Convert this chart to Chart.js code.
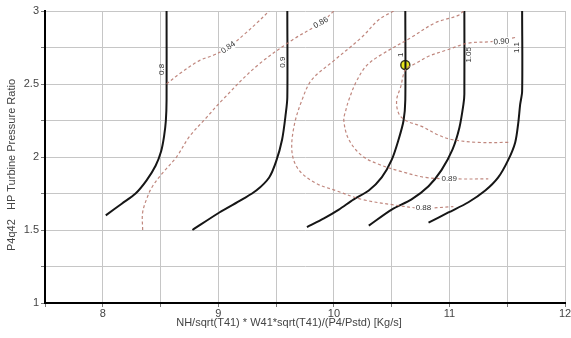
<!DOCTYPE html>
<html>
<head>
<meta charset="utf-8">
<script src="https://cdn.jsdelivr.net/npm/chart.js@4.4.1/dist/chart.umd.min.js"></script>
<style>
    html, body { margin: 0; padding: 0; background: #fff; }
    #wrap { width: 571px; height: 338px; }
</style>
</head>
<body>
<div id="wrap"><canvas id="turbineMap"></canvas></div>
<script>
// tick labels
const xTicks = [8, 9, 10, 11, 12];
const yTicks = [1, 1.5, 2, 2.5, 3];
const xTitle = 'NH/sqrt(T41) * W41*sqrt(T41)/(P4/Pstd) [Kg/s]';
const yTitle = 'P4q42   HP Turbine Pressure Ratio';

// corrected speed lines  [flow, pressure ratio]
const speedLevels = ['0.8', '0.9', '1', '1.05', '1.1'];
const speed080 = [[8.552, 3.0], [8.552, 2.39], [8.546, 2.25], [8.530, 2.14], [8.505, 2.04], [8.457, 1.94], [8.379, 1.84], [8.284, 1.75], [8.164, 1.68], [8.026, 1.60]];
const speed090 = [[9.597, 3.0], [9.597, 2.41], [9.584, 2.30], [9.552, 2.12], [9.500, 1.97], [9.440, 1.86], [9.328, 1.77], [9.207, 1.71], [9.009, 1.62], [8.776, 1.50]];
const speed100 = [[10.618, 3.0], [10.618, 2.39], [10.603, 2.25], [10.560, 2.12], [10.500, 1.98], [10.414, 1.86], [10.302, 1.77], [10.172, 1.71], [10.043, 1.64], [9.914, 1.58], [9.767, 1.52]];
const speed105 = [[11.129, 3.0], [11.129, 2.43], [11.121, 2.36], [11.086, 2.20], [11.026, 2.05], [10.931, 1.91], [10.819, 1.80], [10.672, 1.71], [10.500, 1.64], [10.302, 1.53]];
const speed110 = [[11.629, 3.0], [11.629, 2.45], [11.612, 2.36], [11.595, 2.23], [11.569, 2.10], [11.509, 1.98], [11.422, 1.86], [11.310, 1.77], [11.164, 1.69], [10.991, 1.62], [10.819, 1.55]];

// efficiency contours
const effLevels = ['0.84', '0.86', '0.88', '0.89', '0.90'];
const eff084 = [[8.552, 2.50], [8.664, 2.57], [8.836, 2.66], [8.966, 2.70], [9.086, 2.75], [9.224, 2.84], [9.336, 2.92], [9.440, 3.0]];
const eff086 = [[8.345, 1.50], [8.345, 1.62], [8.388, 1.73], [8.431, 1.80], [8.517, 1.89], [8.638, 2.00], [8.750, 2.14], [8.897, 2.27], [9.034, 2.39], [9.328, 2.62], [9.638, 2.80], [9.888, 2.92], [10.000, 3.0]];
const eff088 = [[10.517, 3.0], [10.388, 2.94], [10.241, 2.82], [10.000, 2.66], [9.810, 2.53], [9.724, 2.39], [9.655, 2.21], [9.638, 2.03], [9.698, 1.91], [9.845, 1.82], [10.017, 1.77], [10.241, 1.71], [10.534, 1.67], [10.759, 1.65], [11.034, 1.66]];
const eff089 = [[11.121, 3.0], [11.078, 2.97], [10.879, 2.92], [10.672, 2.82], [10.388, 2.69], [10.276, 2.62], [10.190, 2.51], [10.129, 2.39], [10.103, 2.32], [10.086, 2.25], [10.129, 2.12], [10.241, 2.01], [10.388, 1.95], [10.586, 1.90], [10.793, 1.86], [11.052, 1.85], [11.336, 1.85]];
const eff090 = [[11.509, 2.10], [11.250, 2.10], [11.017, 2.12], [10.905, 2.15], [10.759, 2.21], [10.621, 2.25], [10.560, 2.30], [10.543, 2.39], [10.578, 2.48], [10.621, 2.60], [10.707, 2.64], [10.819, 2.69], [10.966, 2.73], [11.164, 2.78], [11.362, 2.79], [11.578, 2.82]];

// operating point
const opFlow = [10.618];
const opPR = [2.63];

const speedLines = [speed080, speed090, speed100, speed105, speed110];
const effLines = [eff084, eff086, eff088, eff089, eff090];

const FONT = '"Liberation Sans", Arial, sans-serif';

function toPts(arr) {
    return arr.map(p => ({ x: p[0], y: p[1] }));
}

let datasets = [];
effLines.forEach((line, i) => {
    datasets.push({
        label: 'eff ' + effLevels[i],
        data: toPts(line),
        showLine: true,
        borderColor: 'rgba(185,122,112,0.9)',
        borderWidth: 1.2,
        borderDash: [3, 2.5],
        pointRadius: 0,
        tension: 0.35,
        fill: false
    });
});
speedLines.forEach((line, i) => {
    datasets.push({
        label: 'N ' + speedLevels[i],
        data: toPts(line),
        showLine: true,
        borderColor: '#161616',
        borderWidth: 2,
        pointRadius: 0,
        tension: 0.3,
        fill: false
    });
});
datasets.push({
    label: 'op',
    data: opFlow.map((v, i) => ({ x: v, y: opPR[i] })),
    showLine: false,
    pointRadius: 4.5,
    pointBackgroundColor: '#e8e81c',
    pointBorderColor: '#3a3a20',
    pointBorderWidth: 1.5
});

// label anchors in data units, rotation in degrees
const speedLabelPos = [[8.515, 2.60], [9.562, 2.65], [10.582, 2.70], [11.168, 2.70], [11.585, 2.75]];
const effLabelPos = [[9.086, 2.75, -35], [9.888, 2.92, -30], [10.775, 1.65, 0], [10.998, 1.85, 0], [11.45, 2.79, -4]];

const mapLabels = {
    id: 'mapLabels',
    afterDatasetsDraw(chart) {
        const ctx = chart.ctx;
        const xs = chart.scales.x, ys = chart.scales.y;
        ctx.save();
        ctx.font = '8px ' + FONT;
        ctx.fillStyle = '#333';
        ctx.textAlign = 'center';
        ctx.textBaseline = 'middle';
        speedLevels.forEach((t, i) => {
            const px = xs.getPixelForValue(speedLabelPos[i][0]);
            const py = ys.getPixelForValue(speedLabelPos[i][1]);
            ctx.save();
            ctx.translate(px, py);
            ctx.rotate(-Math.PI / 2);
            ctx.fillText(t, 0, 0);
            ctx.restore();
        });
        effLevels.forEach((t, i) => {
            const p = effLabelPos[i];
            const px = xs.getPixelForValue(p[0]);
            const py = ys.getPixelForValue(p[1]);
            ctx.save();
            ctx.translate(px, py);
            ctx.rotate(p[2] * Math.PI / 180);
            const w = ctx.measureText(t).width;
            ctx.fillStyle = '#fff';
            ctx.fillRect(-w / 2 - 1, -4, w + 2, 8);
            ctx.fillStyle = '#333';
            ctx.fillText(t, 0, 0);
            ctx.restore();
        });
        ctx.restore();
    },
    // axis titles are centred on the whole canvas, not on the plot area
    afterDraw(chart) {
        const ctx = chart.ctx;
        ctx.save();
        ctx.font = '11px ' + FONT;
        ctx.fillStyle = '#444';
        ctx.textAlign = 'center';
        ctx.textBaseline = 'middle';
        ctx.fillText(xTitle, 289, 323);
        ctx.translate(12, 165);
        ctx.rotate(-Math.PI / 2);
        ctx.fillText(yTitle, 0, 0);
        ctx.restore();
    }
};

new Chart(document.getElementById('turbineMap'), {
    type: 'scatter',
    data: { datasets: datasets },
    options: {
        responsive: true,
        maintainAspectRatio: false,
        animation: false,
        events: [],
        layout: { padding: { top: 11, right: 5, left: 0, bottom: 0 } },
        plugins: {
            legend: { display: false },
            tooltip: { enabled: false }
        },
        scales: {
            x: {
                type: 'linear',
                min: 7.5,
                max: 12,
                grid: { color: '#c6c6c6', lineWidth: 1, tickLength: 4, tickColor: '#777' },
                border: { color: '#000', width: 2 },
                ticks: {
                    stepSize: 0.5,
                    autoSkip: false,
                    maxRotation: 0,
                    padding: 0,
                    color: '#444',
                    font: { size: 11, family: FONT },
                    callback: v => xTicks.includes(v) ? v : ''
                },
                afterFit(scale) {
                    scale.height = 35;
                    scale.paddingLeft = 0;
                    scale.paddingRight = 0;
                }
            },
            y: {
                type: 'linear',
                min: 1,
                max: 3,
                grid: { color: '#c6c6c6', lineWidth: 1, tickLength: 4, tickColor: '#777' },
                border: { color: '#000', width: 2 },
                ticks: {
                    stepSize: 0.25,
                    autoSkip: false,
                    padding: 2,
                    color: '#444',
                    font: { size: 11, family: FONT },
                    callback: v => yTicks.includes(v) ? v : ''
                },
                afterFit(scale) {
                    scale.width = 45;
                    scale.paddingTop = 0;
                    scale.paddingBottom = 0;
                }
            }
        }
    },
    plugins: [mapLabels]
});
</script>
</body>
</html>
